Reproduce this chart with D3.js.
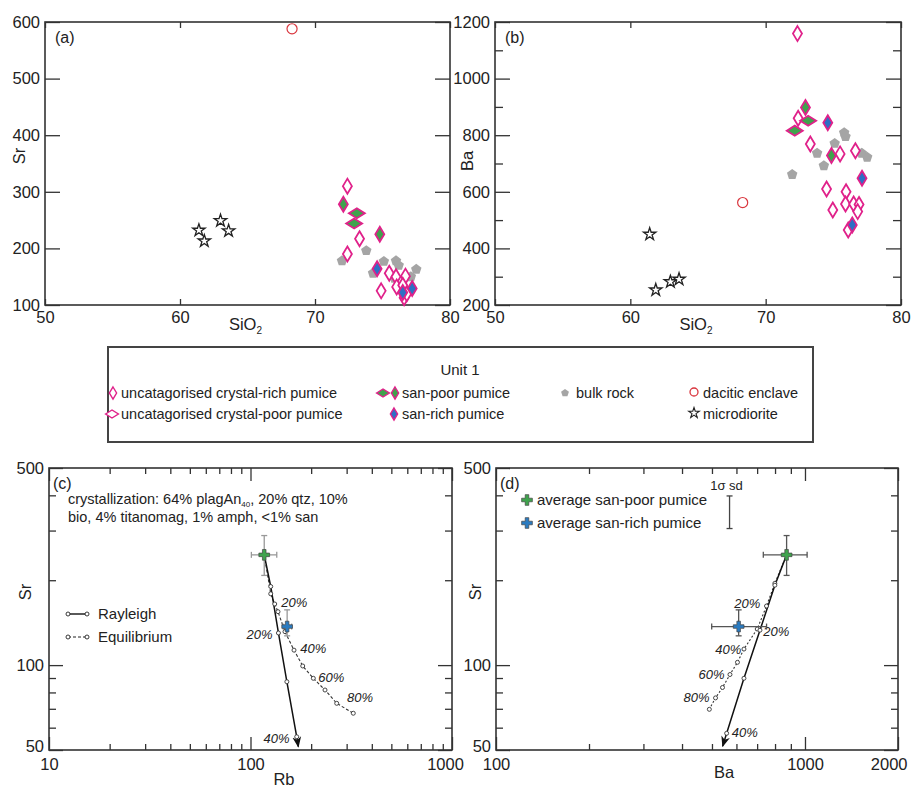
<!DOCTYPE html>
<html>
<head>
<meta charset="utf-8">
<script src="https://cdn.jsdelivr.net/npm/d3@7"></script>
<style>
body { margin: 0; background: #fff; }
svg text { font-family: 'Liberation Sans', Arial, Helvetica, sans-serif; fill: #222; }
</style>
</head>
<body>
<svg id="chart" width="911" height="787"></svg>
<script>
// ---- panel (a): SiO2 vs Sr ----
const crystalRichA = [[72.4,310],[73.3,217],[72.4,190],[75.5,156],[76.0,150],[74.9,125],[76.05,132],[76.7,151],[76.6,113],[76.8,120],[76.5,135]];
const sanPoorTallA = [[72.1,278],[74.8,225]];
const sanPoorWideA = [[73.1,262],[72.9,244]];
const sanRichA = [[74.6,164],[76.5,122],[77.2,129]];
const bulkA = [[72.0,178],[73.8,196],[75.1,177],[76.0,178],[76.2,170],[74.3,156],[77.5,163],[77.1,150],[75.9,147]];
const enclaveA = [[68.3,588]];
const microA = [[61.4,232],[61.8,213],[63.0,249],[63.6,231]];

// ---- panel (b): SiO2 vs Ba ----
const crystalRichB = [[72.35,1159],[72.4,860],[73.3,769],[75.5,734],[76.63,745],[74.5,610],[75.94,600],[74.96,536],[75.9,557],[76.5,557],[76.9,555],[76.8,530],[76.1,465]];
const sanPoorTallB = [[72.94,898],[74.86,728]];
const sanPoorWideB = [[73.14,851],[72.15,816]];
const sanRichB = [[74.59,844],[77.12,648],[76.4,483]];
const bulkB = [[71.96,661],[73.8,736],[74.3,692],[75.1,771],[75.8,809],[75.9,795],[77.1,736],[77.5,722]];
const enclaveB = [[68.3,562]];
const microB = [[61.43,450],[61.88,253],[62.96,282],[63.6,291]];

// ---- averages (c, d) ----
const avgNames = ["average san-poor pumice", "average san-rich pumice"];
const avgRb = [117, 152];
const avgBa = [872, 610];
const avgSr = [246, 137];
const rbErr = [[101,135],[145,160]];
const baErr = [[733,1016],[499,751]];
const srErr = [[208,288],[127,157]];

// ---- panel (c): Rb vs Sr models ----
const rayleighC = [[117,246],[126,190],[137.6,130],[151.5,87.3],[169.6,55.7]];
const rayleighEndC = [172.7,51.4];
const equilC = [[117,246],[126,179],[131.9,164.7],[136.9,154.7],[148.3,131.4],[164.4,113],[181.6,99.3],[205,89.8],[234.3,81.6],[267.8,73.2],[323.7,67.5]];
const labelsC = [[165,167,"20%"],[111,128,"20%"],[205,115,"40%"],[252,90.7,"60%"],[350,77,"80%"],[134.6,55.1,"40%"]];

// ---- panel (d): Ba vs Sr models ----
const rayleighD = [[872,246],[799,192],[715,133],[634.6,89.8],[557.8,57.3]];
const rayleighEndD = [541.6,51.6];
const equilD = [[872,246],[799,195],[750.6,162],[700.6,134.3],[634.6,114],[604.6,102.3],[571.8,92.6],[540.8,83.3],[513.4,76.5],[490.3,69.7]];
const labelsD = [[651,166,"20%"],[808,132,"20%"],[565,114,"40%"],[498.5,93,"60%"],[445.6,77,"80%"],[639,57.5,"40%"]];
const sdBar = [570, 305, 398];

const magenta = "#e0218a", green = "#3fa34d", blue = "#2f6fc4", grey = "#a5a5a5";
const svg = d3.select("#chart");

const defs = svg.append("defs");
defs.append("marker").attr("id", "arr")
    .attr("viewBox", "0 0 10 10").attr("refX", 9).attr("refY", 5)
    .attr("markerWidth", 11).attr("markerHeight", 11)
    .attr("markerUnits", "userSpaceOnUse").attr("orient", "auto")
    .append("path").attr("d", "M0,1L10,5L0,9L3,5Z").attr("fill", "#111");

const tallDiamond = "M0,-7.5L4.5,0L0,7.5L-4.5,0Z";
const wideDiamond = "M-8,0L0,-5L8,0L0,5Z";
const pentagon = d3.line()(d3.range(5).map(function(i) {
    const a = -Math.PI / 2 + i * 2 * Math.PI / 5;
    return [5.5 * Math.cos(a), 5.5 * Math.sin(a)];
})) + "Z";
const star = d3.symbol(d3.symbolStar, 48)();
const cross = d3.symbol(d3.symbolCross, 64)();

function drawAxes(g, x, y, o) {
    const [x0, x1] = x.range();
    const [y1, y0] = y.range();
    const fmt = d3.format("d");
    function add(axis, tx, ty, labels) {
        const a = g.append("g").attr("transform", "translate(" + tx + "," + ty + ")").call(axis);
        a.select(".domain").remove();
        a.selectAll("line").attr("stroke", "#333").attr("stroke-width", 1.3);
        a.selectAll("text").attr("font-size", 16.5);
        if (!labels) a.selectAll("text").remove();
        return a;
    }
    const bottom = add(d3.axisBottom(x).tickValues(o.xMajor).tickSize(-o.xLen[0]).tickPadding(o.xPad).tickFormat(fmt), 0, y1, true);
    bottom.selectAll("text").filter(function(d) { return o.xLabels.indexOf(d) < 0; }).remove();
    if (o.lastEnd) bottom.selectAll("text").filter(function(d) { return d === o.lastEnd; }).attr("text-anchor", "end").attr("dx", 9);
    if (o.lastShift) bottom.selectAll("text").filter(function(d) { return d === o.lastShift; }).attr("dx", -7);
    add(d3.axisBottom(x).tickValues(o.xMinor).tickSize(-o.xLen[1]), 0, y1, false);
    add(d3.axisTop(x).tickValues(o.xMajor).tickSize(-o.xLen[0]), 0, y0, false);
    add(d3.axisTop(x).tickValues(o.xMinor).tickSize(-o.xLen[1]), 0, y0, false);
    const left = add(d3.axisLeft(y).tickValues(o.yMajor).tickSize(-o.yLen[0]).tickPadding(5).tickFormat(fmt), x0, 0, true);
    left.selectAll("text").filter(function(d) { return o.yLabels.indexOf(d) < 0; }).remove();
    if (o.lowLift) left.selectAll("text").filter(function(d) { return d === o.lowLift; }).attr("dy", "0.1em");
    add(d3.axisLeft(y).tickValues(o.yMinor).tickSize(-o.yLen[1]), x0, 0, false);
    add(d3.axisRight(y).tickValues(o.yMajor).tickSize(-o.yLen[0]), x1, 0, false);
    add(d3.axisRight(y).tickValues(o.yMinor).tickSize(-o.yLen[1]), x1, 0, false);
    g.append("rect").attr("x", x0).attr("y", y0).attr("width", x1 - x0).attr("height", y1 - y0)
        .attr("fill", "none").attr("stroke", "#333").attr("stroke-width", 1.6);
}

function plotPts(g, pts, x, y, shape, fill, stroke, sw) {
    g.selectAll(null).data(pts).enter().append("path")
        .attr("d", shape)
        .attr("transform", function(d) { return "translate(" + x(d[0]) + "," + y(d[1]) + ")"; })
        .attr("fill", fill).attr("stroke", stroke).attr("stroke-width", sw);
}

function scatterPanel(x, y, yTicks, yMinor, yLabel, ylabPos, tag, sets) {
    const g = svg.append("g");
    drawAxes(g, x, y, {
        xMajor: [50, 60, 70, 80], xMinor: [], xLabels: [50, 60, 70, 80], xLen: [6, 6], xPad: 6,
        yMajor: yTicks, yMinor: yMinor, yLabels: yTicks, yLen: [15, 8]
    });
    const [x0, x1] = x.range();
    g.append("text").attr("x", x0 + 10).attr("y", 43).attr("font-size", 16).text(tag);
    const xl = g.append("text").attr("x", x0 + 0.495 * (x1 - x0)).attr("y", 330)
        .attr("text-anchor", "middle").attr("font-size", 16.5);
    xl.append("tspan").text("SiO");
    xl.append("tspan").attr("font-size", 10).attr("dy", 4).text("2");
    g.append("text").attr("transform", "translate(" + ylabPos[0] + "," + ylabPos[1] + ") rotate(-90)")
        .attr("text-anchor", "middle").attr("dy", "0.35em").attr("font-size", 16.5).text(yLabel);

    plotPts(g, sets.bulk, x, y, pentagon, grey, "none", 0);
    plotPts(g, sets.micro, x, y, star, "#fff", "#222", 1.3);
    plotPts(g, sets.enclave, x, y, d3.symbol(d3.symbolCircle, 80)(), "none", "#d9363e", 1.2);
    plotPts(g, sets.rich, x, y, tallDiamond, "#fff", magenta, 1.8);
    plotPts(g, sets.poorTall, x, y, tallDiamond, green, magenta, 1.8);
    plotPts(g, sets.poorWide, x, y, wideDiamond, green, magenta, 1.8);
    plotPts(g, sets.sanRich, x, y, tallDiamond, blue, magenta, 1.8);
}

// (a)
const xA = d3.scaleLinear([50, 80], [45, 450]);
const yA = d3.scaleLinear([100, 600], [305, 22]);
scatterPanel(xA, yA, [100, 200, 300, 400, 500, 600], [], "Sr", [19, 156], "(a)",
    { rich: crystalRichA, poorTall: sanPoorTallA, poorWide: sanPoorWideA, sanRich: sanRichA, bulk: bulkA, enclave: enclaveA, micro: microA });

// (b)
const xB = d3.scaleLinear([50, 80], [495, 901]);
const yB = d3.scaleLinear([200, 1200], [305, 22]);
scatterPanel(xB, yB, [200, 400, 600, 800, 1000, 1200], [300, 500, 700, 900, 1100], "Ba", [467, 161], "(b)",
    { rich: crystalRichB, poorTall: sanPoorTallB, poorWide: sanPoorWideB, sanRich: sanRichB, bulk: bulkB, enclave: enclaveB, micro: microB });

// legend box
const lg = svg.append("g");
lg.append("rect").attr("x", 108).attr("y", 347).attr("width", 705).attr("height", 95)
    .attr("fill", "none").attr("stroke", "#444").attr("stroke-width", 2);
lg.append("text").attr("x", 460).attr("y", 375).attr("text-anchor", "middle").attr("font-size", 15).text("Unit 1");
const legendItems = [
    { sym: [[tallDiamond, "#fff", 113, 393]], text: "uncatagorised crystal-rich pumice", tx: 121, ty: 398 },
    { sym: [[wideDiamond, "#fff", 112, 414]], text: "uncatagorised crystal-poor pumice", tx: 121, ty: 419 },
    { sym: [[wideDiamond, green, 383, 393], [tallDiamond, green, 395, 393]], text: "san-poor pumice", tx: 402, ty: 398 },
    { sym: [[tallDiamond, blue, 394, 414]], text: "san-rich pumice", tx: 402, ty: 419 }
];
legendItems.forEach(function(it) {
    it.sym.forEach(function(s) {
        lg.append("path").attr("d", s[0]).attr("transform", "translate(" + s[2] + "," + s[3] + ") scale(0.8)")
            .attr("fill", s[1]).attr("stroke", magenta).attr("stroke-width", 1.8);
    });
    lg.append("text").attr("x", it.tx).attr("y", it.ty).attr("font-size", 14.5).text(it.text);
});
lg.append("path").attr("d", pentagon).attr("transform", "translate(565,393) scale(0.75)").attr("fill", grey);
lg.append("text").attr("x", 576).attr("y", 398).attr("font-size", 14.5).text("bulk rock");
lg.append("circle").attr("cx", 694).attr("cy", 392).attr("r", 4).attr("fill", "none").attr("stroke", "#d9363e").attr("stroke-width", 1.3);
lg.append("text").attr("x", 703).attr("y", 398).attr("font-size", 14.5).text("dacitic enclave");
lg.append("path").attr("d", star).attr("transform", "translate(694,413) scale(0.85)").attr("fill", "#fff").attr("stroke", "#222").attr("stroke-width", 1.3);
lg.append("text").attr("x", 703).attr("y", 419).attr("font-size", 14.5).text("microdiorite");

// model panels
function modelPanel(x, y, axisOpt, avgX, xErr, errColor, ray, rayEnd, eq, eqDash, labels, xLabel, xlabPos, ylabX, tag) {
    const g = svg.append("g");
    drawAxes(g, x, y, axisOpt);
    const [x0, x1] = x.range();
    g.append("text").attr("x", x0 + 4).attr("y", 489).attr("font-size", 16).text(tag);
    g.append("text").attr("x", xlabPos[0]).attr("y", xlabPos[1]).attr("text-anchor", "middle").attr("font-size", 16.5).text(xLabel);
    g.append("text").attr("transform", "translate(" + ylabX + ",592) rotate(-90)")
        .attr("text-anchor", "middle").attr("dy", "0.35em").attr("font-size", 16.5).text("Sr");

    const line = d3.line().x(function(d) { return x(d[0]); }).y(function(d) { return y(d[1]); });
    g.append("path").attr("d", line(eq)).attr("fill", "none").attr("stroke", "#333").attr("stroke-width", 1.1).attr("stroke-dasharray", eqDash);
    g.append("path").attr("d", line(ray.concat([rayEnd]))).attr("fill", "none").attr("stroke", "#111").attr("stroke-width", 1.5).attr("marker-end", "url(#arr)");
    g.selectAll(null).data(eq.slice(1).concat(ray.slice(1))).enter().append("circle")
        .attr("cx", function(d) { return x(d[0]); }).attr("cy", function(d) { return y(d[1]); })
        .attr("r", 2).attr("fill", "#fff").attr("stroke", "#333").attr("stroke-width", 0.9);
    g.selectAll(null).data(labels).enter().append("text")
        .attr("x", function(d) { return x(d[0]); }).attr("y", function(d) { return y(d[1]); })
        .attr("dy", "0.35em").attr("text-anchor", "middle").attr("font-size", 13).attr("font-style", "italic")
        .attr("fill", "#333").text(function(d) { return d[2]; });

    [green, "#2b7bc0"].forEach(function(c, i) {
        const cx = x(avgX[i]), cy = y(avgSr[i]);
        const eg = g.append("g").attr("stroke", errColor).attr("stroke-width", 1.3);
        eg.append("line").attr("x1", x(xErr[i][0])).attr("x2", x(xErr[i][1])).attr("y1", cy).attr("y2", cy);
        eg.append("line").attr("y1", y(srErr[i][0])).attr("y2", y(srErr[i][1])).attr("x1", cx).attr("x2", cx);
        [x(xErr[i][0]), x(xErr[i][1])].forEach(function(ex) {
            eg.append("line").attr("x1", ex).attr("x2", ex).attr("y1", cy - 3).attr("y2", cy + 3);
        });
        [y(srErr[i][0]), y(srErr[i][1])].forEach(function(ey) {
            eg.append("line").attr("y1", ey).attr("y2", ey).attr("x1", cx - 3).attr("x2", cx + 3);
        });
        g.append("path").attr("d", cross).attr("transform", "translate(" + cx + "," + cy + ")")
            .attr("fill", c).attr("stroke", "#444").attr("stroke-width", 0.7);
    });
    return g;
}

const yLog = d3.scaleLog([50, 500], [750, 468]);
const xC = d3.scaleLog([10, 1000], [49, 452]);
const gC = modelPanel(xC, yLog, {
    xMajor: [10, 100, 1000], xMinor: [20, 30, 40, 50, 60, 70, 80, 90, 200, 300, 400, 500, 600, 700, 800, 900],
    xLabels: [10, 100, 1000], xLen: [13, 6], xPad: 8, lastShift: 1000, lowLift: 50,
    yMajor: [50, 100, 500], yMinor: [60, 70, 80, 90, 200, 300, 400], yLabels: [50, 100, 500], yLen: [14, 7]
}, avgRb, rbErr, "#999", rayleighC, rayleighEndC, equilC, "3,2", labelsC, "Rb", [284, 785], 25, "(c)");

const ann = gC.append("text").attr("x", 68).attr("y", 504).attr("font-size", 14.5);
ann.append("tspan").text("crystallization: 64% plagAn");
ann.append("tspan").attr("font-size", 8).attr("dy", 3).text("40");
ann.append("tspan").attr("dy", -3).text(", 20% qtz, 10%");
gC.append("text").attr("x", 68).attr("y", 522).attr("font-size", 14.5).text("bio, 4% titanomag, 1% amph, <1% san");

[["Rayleigh", null, 614], ["Equilibrium", "3,2", 637]].forEach(function(r) {
    gC.append("line").attr("x1", 68).attr("x2", 87).attr("y1", r[2]).attr("y2", r[2])
        .attr("stroke", "#222").attr("stroke-width", r[1] ? 1 : 1.5).attr("stroke-dasharray", r[1]);
    [68, 87].forEach(function(cx) {
        gC.append("circle").attr("cx", cx).attr("cy", r[2]).attr("r", 2).attr("fill", "#fff").attr("stroke", "#222").attr("stroke-width", 0.9);
    });
    gC.append("text").attr("x", 98).attr("y", r[2] + 5).attr("font-size", 15).text(r[0]);
});

const xD = d3.scaleLog([100, 2000], [496, 898]);
const gD = modelPanel(xD, yLog, {
    xMajor: [100, 1000, 2000], xMinor: [200, 300, 400, 500, 600, 700, 800, 900],
    xLabels: [100, 1000, 2000], xLen: [13, 6], xPad: 8, lastEnd: 2000, lowLift: 50,
    yMajor: [50, 100, 500], yMinor: [60, 70, 80, 90, 200, 300, 400], yLabels: [50, 100, 500], yLen: [14, 7]
}, avgBa, baErr, "#555", rayleighD, rayleighEndD, equilD, "2,2", labelsD, "Ba", [724, 778], 475, "(d)");

avgNames.forEach(function(n, i) {
    gD.append("path").attr("d", cross).attr("transform", "translate(527," + (500 + i * 23) + ")")
        .attr("fill", i ? "#2b7bc0" : green).attr("stroke", "#444").attr("stroke-width", 0.7);
    gD.append("text").attr("x", 537).attr("y", 505 + i * 23).attr("font-size", 15).text(n);
});
const sb = gD.append("g").attr("stroke", "#444").attr("stroke-width", 1.3);
sb.append("line").attr("x1", xD(sdBar[0])).attr("x2", xD(sdBar[0])).attr("y1", yLog(sdBar[1])).attr("y2", yLog(sdBar[2]));
[sdBar[1], sdBar[2]].forEach(function(v) {
    sb.append("line").attr("x1", xD(sdBar[0]) - 3).attr("x2", xD(sdBar[0]) + 3).attr("y1", yLog(v)).attr("y2", yLog(v));
});
gD.append("text").attr("x", xD(sdBar[0]) - 3).attr("y", 490).attr("text-anchor", "middle").attr("font-size", 13).text("1σ sd");
</script>
</body>
</html>
